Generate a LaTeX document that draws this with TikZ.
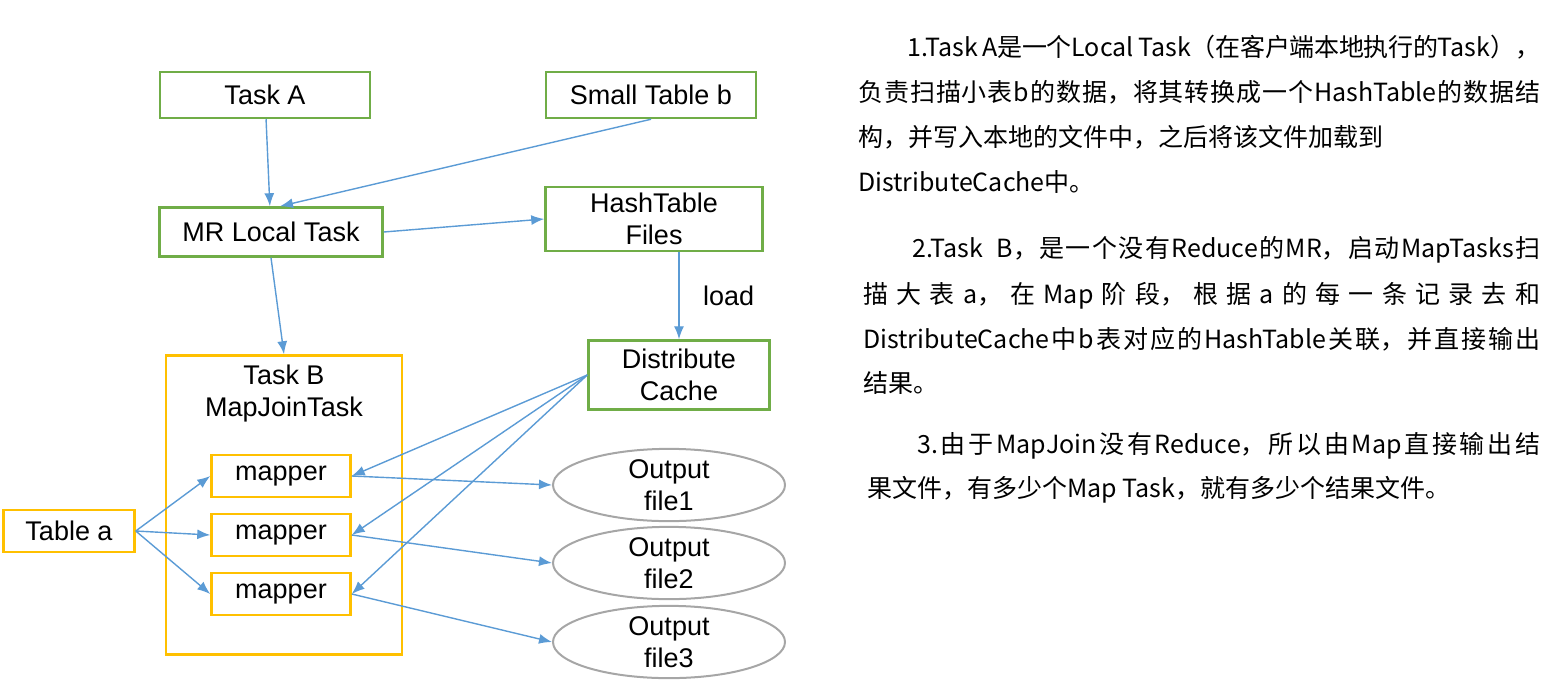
\documentclass[tikz,border=0pt]{standalone}
\usepackage{fontspec}
\setmainfont{Liberation Sans}
\newfontfamily\cjk{Noto Sans CJK SC}
\usepackage{xcolor}
\definecolor{vert}{HTML}{70AD47}
\definecolor{jaune}{HTML}{FFC000}
\definecolor{bleu}{HTML}{5B9BD5}
\definecolor{gris}{HTML}{A6A6A6}
\usepackage{tikz}
\usetikzlibrary{arrows.meta,positioning,shapes.geometric}
\XeTeXlinebreaklocale "zh"
\XeTeXlinebreakskip=0pt plus 3pt minus 1pt
\tikzset{
    gbox/.style={
    rectangle,draw=vert,line width=2.5pt,align=center,inner sep=0pt,font=\fontsize{27}{32}\selectfont
    },
    ybox/.style={
    rectangle,draw=jaune,line width=2.5pt,align=center,inner sep=0pt,font=\fontsize{27}{32}\selectfont
    },
    outfile/.style={
    ellipse,draw=gris,line width=2pt,align=center,inner sep=0pt,font=\fontsize{27}{32}\selectfont
    },
  line/.style={draw=bleu, line width=1.4pt, -{Latex[length=13pt,width=10pt]}},
  txt/.style={anchor=base west, inner sep=0pt, font=\cjk\fontsize{25}{30}\selectfont},
  jline/.style={txt, text width=#1, align=justify, execute at begin node={\parfillskip=0pt\relax}}
}

\begin{document}
\begin{tikzpicture}[x=1pt,y=-1pt]
    \useasboundingbox (0,0) rectangle (1548,694);

    \node[gbox,minimum width=210,minimum height=46] (taska) at (265,95) {Task A};
    \node[gbox,minimum width=210,minimum height=46] (smallb) at (651,95) {Small Table b};
    \node[gbox,minimum width=223,minimum height=49] (mrlocal) at (271,232) {MR Local Task};
    \node[gbox,minimum width=217,minimum height=64] (hashfiles) at (654,219) {HashTable\\Files};
    \node[gbox,minimum width=181,minimum height=69] (dcache) at (679,375) {Distribute\\Cache};

    \node[ybox,minimum width=236,minimum height=299] (taskb) at (284,505) {};
    \node[font=\fontsize{27}{32}\selectfont,align=center] (tbtitle) at (284,394) {Task B\\MapJoinTask};
    \node[ybox,minimum width=139,minimum height=42] (m1) at (281,476) {mapper};
    \node[ybox,minimum width=139,minimum height=42] (m2) at (281,535) {mapper};
    \node[ybox,minimum width=139,minimum height=42] (m3) at (281,594) {mapper};
    \node[ybox,minimum width=131,minimum height=42] (tablea) at (69,531) {Table a};

    \node[outfile,minimum width=232,minimum height=70] (out1) at (669,485) {Output\\file1};
    \node[outfile,minimum width=232,minimum height=70] (out2) at (669,563) {Output\\file2};
    \node[outfile,minimum width=232,minimum height=69] (out3) at (669,642) {Output\\file3};

    \begin{scope} [every path/.style=line]
      \path (taska) -- (mrlocal);
      \path (smallb.south) -- ([xshift=9pt]mrlocal.north);
      \path (mrlocal.east) -- (hashfiles.west);
      \path (mrlocal.south) -- (taskb.north);
      \path (hashfiles.south -| dcache.north) -- node[right=20pt,font=\fontsize{27}{32}\selectfont] (load) {load} (dcache.north);

      \path (dcache.west) -- (m1.east);
      \path (dcache.west) -- (m2.east);
      \path (dcache.west) -- (m3.east);

      \path (tablea.east) -- (m1.west);
      \path (tablea.east) -- (m2.west);
      \path (tablea.east) -- (m3.west);

      \path (m1.east) -- (out1.west);
      \path (m2.east) -- (out2.west);
      \path (m3.east) -- (out3.west);
    \end{scope}

    % notes on the right
    \node[jline=633pt] (p1a) at (907,56) {1.Task A是一个Local Task（在客户端本地执行的Task），};
    \node[jline=682pt] (p1b) at (858,101) {负责扫描小表b的数据，将其转换成一个HashTable的数据结};
    \node[txt] (p1c) at (858,146) {构，并写入本地的文件中，之后将该文件加载到};
    \node[txt] (p1d) at (858,191) {DistributeCache中。};

    \node[jline=628pt] (p2a) at (912,257) {2.Task\ \ B，是一个没有Reduce的MR，启动MapTasks扫};
    \node[jline=677pt] (p2b) at (863,303) {描大表a，在Map阶段，根据a的每一条记录去和};
    \node[jline=677pt] (p2c) at (863,348) {DistributeCache中b表对应的HashTable关联，并直接输出};
    \node[txt] (p2d) at (863,392) {结果。};

    \node[jline=623pt] (p3a) at (917,453) {3.由于MapJoin没有Reduce，所以由Map直接输出结};
    \node[txt] (p3b) at (867,497) {果文件，有多少个Map Task，就有多少个结果文件。};
\end{tikzpicture}
\end{document}
